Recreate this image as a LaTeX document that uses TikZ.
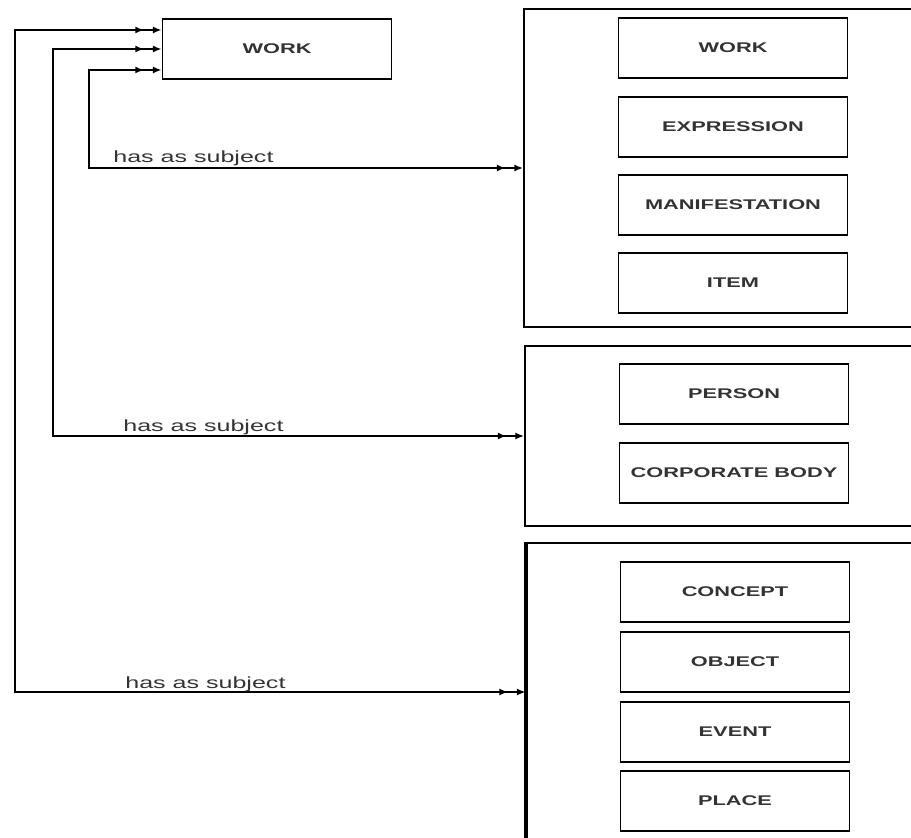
\documentclass[tikz,border=0pt]{standalone}
\usepackage{fontspec}
\setmainfont{Liberation Sans}
\newfontfamily\widefont{Liberation Sans}[FakeStretch=1.55]
\usetikzlibrary{arrows.meta}

\begin{document}
\begin{tikzpicture}[
   x=0.02cm, y=-0.02cm,
   dbl/.tip={Latex[length=5pt,width=4pt,sep=5pt]Latex[length=5pt,width=4pt]},
   box/.style={rectangle, draw, line width=1pt, minimum width=4.58cm, minimum height=1.2cm,
      font=\widefont\bfseries\fontsize{8}{10}\selectfont, text=black!80},
   group/.style={rectangle, draw, line width=1pt, minimum width=9.6cm},
   link/.style={dbl-dbl, line width=1pt},
   relation/.style={font=\widefont\fontsize{9.2}{11}\selectfont, text=black!80, anchor=base west, inner sep=0pt}
]
\useasboundingbox (0,0) rectangle (911,837);
\clip (0,0) rectangle (911,837);

% Work
\node[box] (work) at (277,49) {WORK};

% Group 1 entities
\node[group, minimum height=6.36cm] (groupA) at (764,168) {};
\node[box] (work2) at (733,48) {WORK};
\node[box] (expr) at (733,127) {EXPRESSION};
\node[box] (manif) at (733,205) {MANIFESTATION};
\node[box] (item) at (733,283) {ITEM};

% Group 2 entities
\node[group, minimum height=3.6cm] (groupB) at (765,436) {};
\node[box] (person) at (734,394) {PERSON};
\node[box] (corp) at (734,473) {CORPORATE BODY};

% Group 3 entities
\node[group, minimum height=5.96cm, line width=1.5pt] (groupC) at (767,692) {};
\draw[line width=2.5pt] (groupC.north west) -- (groupC.south west);
\node[box] (concept) at (735,592) {CONCEPT};
\node[box] (object) at (735,662) {OBJECT};
\node[box] (event) at (735,732) {EVENT};
\node[box] (place) at (735,801) {PLACE};

% Bends
\coordinate (bendA) at (89,168);
\coordinate (bendB) at (53,436);
\coordinate (bendC) at (15,692);

% Subject links
\draw[link] ([yshift=-0.42cm]work.west) -| (bendA) -- (groupA.west);
\draw[link] (work.west) -| (bendB) -- (groupB.west);
\draw[link] ([yshift=0.38cm]work.west) -| (bendC) -- (groupC.west);

% Labels
\node[relation] (relA) at (113,163) {has as subject};
\node[relation] (relB) at (123,431) {has as subject};
\node[relation] (relC) at (125,688) {has as subject};

\end{tikzpicture}
\end{document}
